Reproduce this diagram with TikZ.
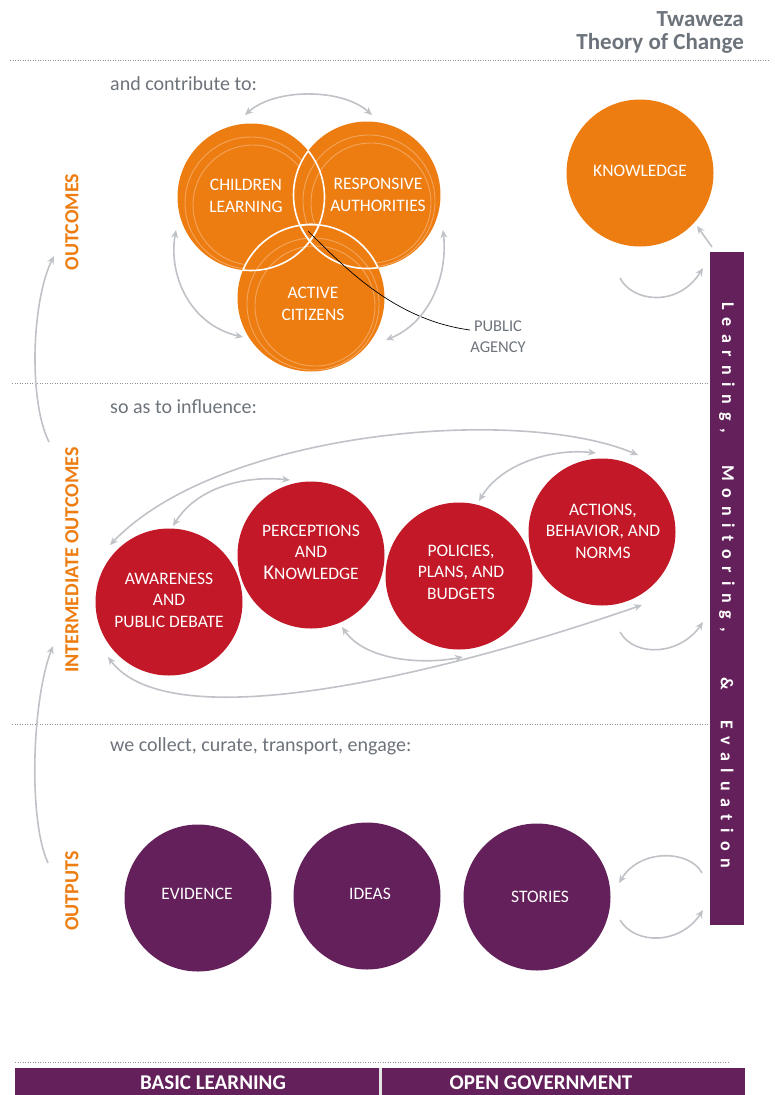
\documentclass[tikz,border=0pt]{standalone}
\usepackage{fontspec}
\setmainfont{Carlito}
\usetikzlibrary{arrows.meta}
\definecolor{orng}{HTML}{EE7D11}
\definecolor{ringc}{HTML}{F3A45C}
\definecolor{redc}{HTML}{C21827}
\definecolor{purp}{HTML}{63205A}
\definecolor{txtgray}{HTML}{6D737B}
\definecolor{arrgray}{HTML}{BFC2C6}
\definecolor{dotgray}{HTML}{8E9399}
\begin{document}
\begin{tikzpicture}[x=1pt,y=-1pt,
  circ/.style={circle,inner sep=0pt,minimum size=147pt,draw=none},
  ctext/.style={text=white,font=\fontsize{17.5}{21.5}\selectfont,align=center,inner sep=0pt},
  arr/.style={draw=arrgray,line width=1.6pt,-{Stealth[length=8pt,width=7pt]}},
  darr/.style={draw=arrgray,line width=1.6pt,{Stealth[length=8pt,width=7pt]}-{Stealth[length=8pt,width=7pt]}},
  dotline/.style={draw=dotgray,line width=0.8pt,dash pattern=on 1pt off 1.5pt},
  sectxt/.style={text=txtgray,font=\fontsize{20}{24}\selectfont,anchor=west,inner sep=0pt},
  vlab/.style={text=orng,font=\bfseries\fontsize{20}{24}\selectfont,rotate=90,inner sep=0pt},
  bartxt/.style={text=white,font=\bfseries\fontsize{18}{18}\selectfont\addfontfeature{LetterSpace=43,Ligatures=NoCommon},rotate=-90,inner sep=0pt,anchor=west},
  ring/.style={draw=ringc,line width=0.9pt},
]
\useasboundingbox (0,0) rectangle (774,1095);

% title
\node[anchor=east,text=txtgray,font=\bfseries\fontsize{23}{26}\selectfont,inner sep=0pt] (t1) at (744,19) {Twaweza};
\node[anchor=east,text=txtgray,font=\bfseries\fontsize{23}{26}\selectfont,inner sep=0pt] (t2) at (744,43) {Theory of Change};

% dotted separators
\draw[dotline] (10,60) -- (770,60);
\draw[dotline] (12,383) -- (710,383);
\draw[dotline] (12,724) -- (710,724);
\draw[dotline] (15,1062) -- (728,1062);

% section texts
\node[sectxt] (s1) at (110,84) {and contribute to:};
\node[sectxt] (s2) at (110,407) {so as to influence:};
\node[sectxt] (s3) at (110,746) {we collect, curate, transport, engage:};

% vertical labels
\node[vlab] (v1) at (72,222) {OUTCOMES};
\node[vlab] (v2) at (72,560) {INTERMEDIATE OUTCOMES};
\node[vlab] (v3) at (72,891) {OUTPUTS};

% left progression arrows
\coordinate (la1) at (49,442); \coordinate (la2) at (54,256);
\draw[arr] (la1) .. controls (28,400) and (32,300) .. (la2);
\coordinate (lb1) at (48,863); \coordinate (lb2) at (53,646);
\draw[arr] (lb1) .. controls (28,820) and (32,700) .. (lb2);

% ---------- outcomes venn ----------
\node[circ,fill=orng] (cl) at (251,197) {};
\draw[ring] (251,203) circle (66pt);
\draw[ring] (253,205) circle (60pt);
\node[circ,fill=orng] (ra) at (367,195) {};
\draw[ring] (369,201) circle (66pt);
\draw[ring] (371,203) circle (60pt);
\node[circ,fill=orng] (ac) at (311,298) {};
\draw[ring] (313,304) circle (66pt);
\draw[ring] (315,306) circle (60pt);
\begin{scope}
  \clip (ra.center) circle (73.5pt);
  \draw[white,line width=1.6pt] (cl.center) circle (73.5pt);
  \draw[white,line width=1.6pt] (ac.center) circle (73.5pt);
\end{scope}
\begin{scope}
  \clip (cl.center) circle (73.5pt);
  \draw[white,line width=1.6pt] (ra.center) circle (73.5pt);
  \draw[white,line width=1.6pt] (ac.center) circle (73.5pt);
\end{scope}
\begin{scope}
  \clip (ac.center) circle (73.5pt);
  \draw[white,line width=1.6pt] (cl.center) circle (73.5pt);
  \draw[white,line width=1.6pt] (ra.center) circle (73.5pt);
\end{scope}
\node[ctext] (clt) at (246,196) {CHILDREN\\LEARNING};
\node[ctext] (rat) at (378,195) {RESPONSIVE\\AUTHORITIES};
\node[ctext] (act) at (313,304) {ACTIVE\\CITIZENS};

% public agency
\coordinate (pa0) at (308,231);
\coordinate (pa1) at (470,330);
\node[text=txtgray,font=\fontsize{16.5}{21}\selectfont,align=center,inner sep=0pt] (pa) at (498,337) {PUBLIC\\AGENCY};
\draw[black,line width=0.7pt] (pa0) .. controls (345,268) and (395,320) .. (pa1);

% venn arrows
\coordinate (va1) at (245,115); \coordinate (va2) at (372,115);
\draw[darr] (va1) .. controls (275,88) and (342,88) .. (va2);
\coordinate (vb1) at (176,230); \coordinate (vb2) at (243,337);
\draw[darr] (vb1) .. controls (168,275) and (190,325) .. (vb2);
\coordinate (vc1) at (443,230); \coordinate (vc2) at (386,340);
\draw[darr] (vc1) .. controls (448,275) and (430,322) .. (vc2);

% knowledge
\node[circ,fill=orng] (kn) at (640,173) {};
\node[ctext] (knt) at (640,171) {KNOWLEDGE};

% ---------- intermediate outcomes ----------
\node[circ,fill=redc] (aw) at (169,602) {};
\node[ctext] (awt) at (169,600) {AWARENESS\\AND\\PUBLIC DEBATE};
\node[circ,fill=redc] (pk) at (311,555) {};
\node[ctext] (pkt) at (311,552) {PERCEPTIONS\\AND\\{\fontsize{21}{21.5}\selectfont K}NOWLEDGE};
\node[circ,fill=redc] (pp) at (459,576) {};
\node[ctext] (ppt) at (461,572) {POLICIES,\\PLANS, AND\\BUDGETS};
\node[circ,fill=redc] (ab) at (602,532) {};
\node[ctext] (abt) at (603,531) {ACTIONS,\\BEHAVIOR, AND\\NORMS};

\coordinate (ra1) at (110,545); \coordinate (ra2) at (638,455);
\draw[darr] (ra1) .. controls (220,430) and (520,405) .. (ra2);
\coordinate (rb1) at (173,526); \coordinate (rb2) at (290,480);
\draw[darr] (rb1) .. controls (195,490) and (240,475) .. (rb2);
\coordinate (rc1) at (479,501); \coordinate (rc2) at (596,453);
\draw[darr] (rc1) .. controls (500,465) and (550,448) .. (rc2);
\coordinate (rd1) at (342,627); \coordinate (rd2) at (463,657);
\draw[darr] (rd1) .. controls (365,660) and (420,665) .. (rd2);
\coordinate (re1) at (108,657); \coordinate (re2) at (642,605);
\draw[darr] (re1) .. controls (170,740) and (440,675) .. (re2);

% ---------- outputs ----------
\node[circ,fill=purp] (ev) at (198,898) {};
\node[ctext] (evt) at (197,894) {EVIDENCE};
\node[circ,fill=purp] (id) at (367,896) {};
\node[ctext] (idt) at (370,894) {IDEAS};
\node[circ,fill=purp] (st) at (537,897) {};
\node[ctext] (stt) at (540,897) {STORIES};

% ---------- learning bar ----------
\node[fill=purp,inner sep=0pt,minimum width=34pt,minimum height=673pt,anchor=north west] (bar) at (710,252) {};
\node[bartxt] (lw1) at (727,302) {Learning,};
\node[bartxt] (lw2) at (727,465) {Monitoring,};
\node[bartxt] (lw3) at (727,677) {\&};
\node[bartxt] (lw4) at (727,720) {Evaluation};

% arrows near bar
\coordinate (k1) at (712,247); \coordinate (k2) at (697,226);
\draw[arr] (k1) -- (k2);
\coordinate (ba1) at (620,278); \coordinate (ba2) at (703,268);
\draw[arr] (ba1) .. controls (632,302) and (678,308) .. (ba2);
\coordinate (bb1) at (620,632); \coordinate (bb2) at (703,622);
\draw[arr] (bb1) .. controls (635,658) and (680,655) .. (bb2);
\coordinate (bc1) at (702,873); \coordinate (bc2) at (619,883);
\draw[arr] (bc1) .. controls (690,850) and (640,848) .. (bc2);
\coordinate (bd1) at (620,920); \coordinate (bd2) at (703,910);
\draw[arr] (bd1) .. controls (635,945) and (680,945) .. (bd2);

% ---------- bottom bar ----------
\node[fill=purp,inner sep=0pt,minimum width=730pt,minimum height=27pt,anchor=north west] (bot) at (15,1068) {};
\draw[draw=white!80!gray,line width=3pt] (380,1068) -- (380,1095);
\node[text=white,font=\bfseries\fontsize{21}{21}\selectfont,inner sep=0pt] (bl) at (213,1083) {BASIC LEARNING};
\node[text=white,font=\bfseries\fontsize{21}{21}\selectfont,inner sep=0pt] (og) at (541,1083) {OPEN GOVERNMENT};
\end{tikzpicture}
\end{document}
